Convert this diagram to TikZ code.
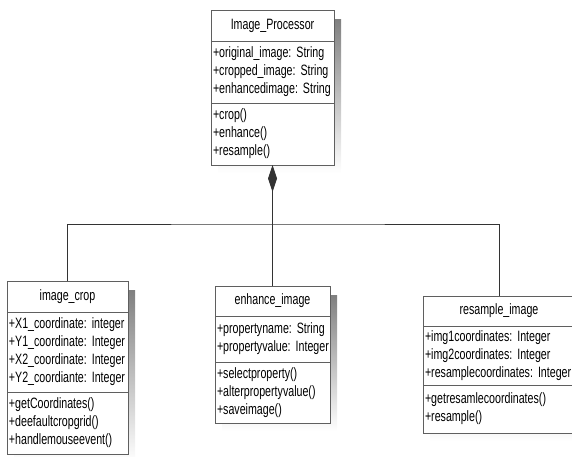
\documentclass[tikz,border=0pt]{standalone}
\usepackage{fontspec}
\setmainfont{Liberation Sans}[FakeStretch=0.71]
\usetikzlibrary{arrows.meta}
\usetikzlibrary{calc}
\usetikzlibrary{positioning}
\usetikzlibrary{backgrounds}

\definecolor{boxline}{RGB}{95,95,95}
\definecolor{shade}{RGB}{212,212,212}

\newcommand{\umlfont}{\fontsize{15}{18}\selectfont\frenchspacing\hyphenpenalty=10000\relax\exhyphenpenalty=10000\relax}

\tikzset{
  every node/.style={font=\umlfont},
  umltitle/.style={draw=boxline, line width=1pt, fill=white, outer sep=0pt, inner xsep=2pt, inner ysep=2pt, align=center, anchor=north west},
  umlpart/.style={draw=boxline, line width=1pt, fill=white, outer sep=0pt, inner xsep=2pt, inner ysep=2pt, align=left, below=0pt of #1},
  link/.style={line width=0.9pt, draw=black!80},
}

\begin{document}
\begin{tikzpicture}[x=1pt, y=-1pt]

\useasboundingbox (0,0) rectangle (572,456);

% Image_Processor
\node[umltitle, text width=119pt, minimum height=31pt] at (211,10) (p_t) {Image\_Processor};
\node[umlpart=p_t, text width=119pt, minimum height=62pt] (p_a) {+original\_image:~String\\+cropped\_image:~String\\+enhancedimage:~String};
\node[umlpart=p_a, text width=119pt, minimum height=62pt] (p_m) {+crop()\\+enhance()\\+resample()};

% image_crop
\node[umltitle, text width=117pt, minimum height=31pt] at (7,281) (c_t) {image\_crop};
\node[umlpart=c_t, text width=117pt, minimum height=80pt] (c_a) {+X1\_coordinate:~integer\\+Y1\_coordinate:~Integer\\+X2\_coordinate:~Integer\\+Y2\_coordiante:~Integer};
\node[umlpart=c_a, text width=117pt, minimum height=62pt] (c_m) {+getCoordinates()\\+deefaultcropgrid()\\+handlemouseevent()};

% enhance_image
\node[umltitle, text width=111pt, minimum height=30pt] at (215,286) (e_t) {enhance\_image};
\node[umlpart=e_t, text width=111pt, minimum height=46pt] (e_a) {+propertyname:~String\\+propertyvalue:~Integer};
\node[umlpart=e_a, text width=111pt, minimum height=61pt] (e_m) {+selectproperty()\\+alterpropertyvalue()\\+saveimage()};

% resample_image
\node[umltitle, text width=148pt, minimum height=30pt] at (423,296) (r_t) {resample\_image};
\node[umlpart=r_t, text width=148pt, minimum height=59pt] (r_a) {+img1coordinates:~Integer\\+img2coordinates:~Integer\\+resamplecoordinates:~Integer};
\node[umlpart=r_a, text width=148pt, minimum height=48pt] (r_m) {+getresamlecoordinates()\\+resample()};

% Shadows
\begin{scope}[on background layer]
\fill[shade] ($(p_t.north west)+(7,9)$) rectangle ($(p_m.south east)+(7,8)$);
\fill[shade] ($(c_t.north west)+(7,9)$) rectangle ($(c_m.south east)+(7,8)$);
\fill[shade] ($(e_t.north west)+(7,9)$) rectangle ($(e_m.south east)+(7,8)$);
\fill[shade] ($(r_t.north west)+(7,9)$) rectangle ($(r_m.south east)+(7,8)$);
\end{scope}

% Composition
\coordinate (junction) at ($(p_m.south)+(0,59)$);
\draw[link, -{Diamond[length=27pt, width=9pt]}] (e_t.north) -- (p_m.south);
\draw[link] (c_t.north) |- (junction) -| (r_t.north);

\end{tikzpicture}
\end{document}
